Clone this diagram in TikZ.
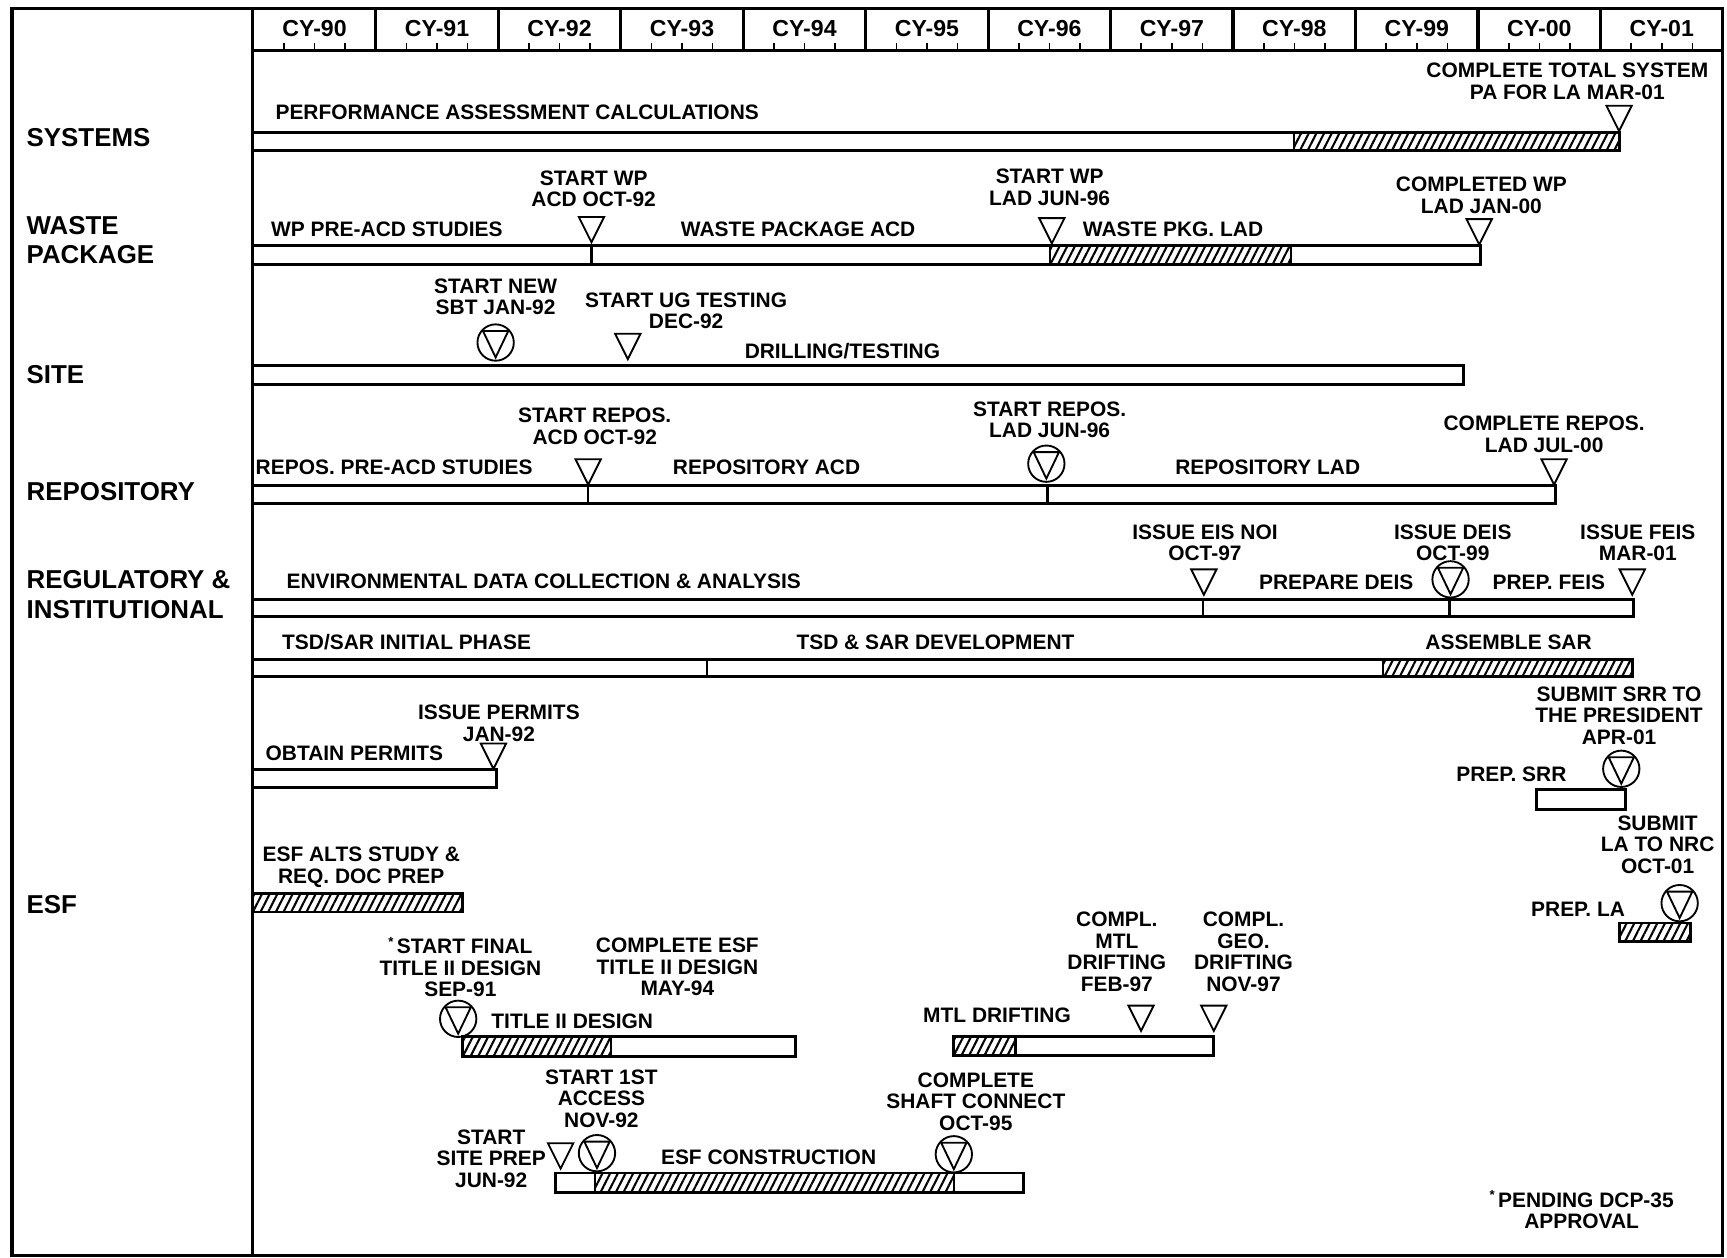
\documentclass[tikz,border=0pt]{standalone}
\usepackage{fontspec}
\setmainfont{Liberation Sans}
\usetikzlibrary{patterns.meta}
\tikzset{
  frame/.style={line width=3pt},
  barline/.style={line width=2.6pt},
  sepline/.style={line width=2pt},
  hatch/.style={pattern={Lines[angle=63,distance=6.2pt,line width=1.9pt]}},
  msline/.style={line width=1.7pt},
  lbl/.style={font=\fontsize{19}{19.5}\selectfont\bfseries, inner sep=0pt, align=center},
  lbll/.style={lbl, anchor=west},
  rowlbl/.style={font=\fontsize{23.5}{27}\selectfont\bfseries, inner sep=0pt, align=left, anchor=west},
  yearlbl/.style={font=\fontsize{21}{22}\selectfont\bfseries, inner sep=0pt},
  mscirc/.style={circle, draw, line width=1.7pt, minimum size=33pt, inner sep=0pt},
}
\newcommand\msTri[3]{% name, x, y of tip
  \coordinate (#1) at (#2,#3);
  \draw[msline] ({#2-11.5},{#3-23}) -- ({#2+11.5},{#3-23}) -- (#2,#3) -- cycle;}
\newcommand\msCirc[3]{% name, x, y of centre
  \node[mscirc] (#1) at (#2,#3) {};
  \draw[msline] ({#2-11.5},{#3-10.5}) -- ({#2+11.5},{#3-10.5}) -- (#2,{#3+13.5}) -- cycle;}
\newcommand\fnstar{\raisebox{0.35em}{\fontsize{12}{12}\selectfont *}}
\begin{document}
\begin{tikzpicture}[x=1pt,y=-1pt]
\useasboundingbox (0,0) rectangle (1568,1142);
\fill[white] (0,0) rectangle (1568,1142);
% frame
\draw[frame] (11,8) rectangle (1564,1140);
\draw[frame] (229,8) -- (229,1140);
\draw[frame] (229,46) -- (1564,46);
% header
\foreach \lab [count=\i from 0] in {90,91,92,93,94,95,96,97,98,99,00,01} {
  \pgfmathsetmacro\xa{230+111.2*\i}
  \node[yearlbl] (cy\i) at (\xa+55.6,26) {CY-\lab};
  \ifnum\i>0 \draw[frame] (\xa,8) -- (\xa,46); \fi
  \foreach \q in {1,2,3} \draw[line width=1.5pt] ({\xa+27.8*\q},46) -- ({\xa+27.8*\q},39);
}
% row labels
\node[rowlbl] (rSys) at (24,125) {SYSTEMS};
\node[rowlbl] (rWP) at (24,218) {WASTE\\PACKAGE};
\node[rowlbl] (rSite) at (24,340) {SITE};
\node[rowlbl] (rRep) at (24,446) {REPOSITORY};
\node[rowlbl] (rReg) at (24,540) {REGULATORY \&\\INSTITUTIONAL};
\node[rowlbl] (rESF) at (24,821) {ESF};

% ---------- SYSTEMS
\fill[hatch] (1175,120) rectangle (1470,137);
\draw[barline] (229,120) rectangle (1470,137);
\draw[sepline] (1175,120) -- (1175,137);
\node[lbll] (tPA) at (250,102) {PERFORMANCE ASSESSMENT CALCULATIONS};
\node[lbl] (tPAm) at (1423,74) {COMPLETE TOTAL SYSTEM\\PA FOR LA MAR-01};
\msTri{mPA}{1470}{119}

% ---------- WASTE PACKAGE
\fill[hatch] (953,223) rectangle (1172,240);
\draw[barline] (229,223) rectangle (1344,240);
\foreach \s in {537,953,1172} \draw[sepline] (\s,223) -- (\s,240);
\node[lbll] (tWP1) at (246,208) {WP PRE-ACD STUDIES};
\node[lbl] (tWPm1) at (539,171.5) {START WP\\ACD OCT-92};
\msTri{mWP1}{537}{220}
\node[lbll] (tWP2) at (618,208) {WASTE PACKAGE ACD};
\node[lbl] (tWPm2) at (953,170) {START WP\\LAD JUN-96};
\msTri{mWP2}{955}{221}
\node[lbll] (tWP3) at (983,208) {WASTE PKG. LAD};
\node[lbl] (tWPm3) at (1345,177.5) {COMPLETED WP\\LAD JAN-00};
\msTri{mWP3}{1343}{222}

% ---------- SITE
\draw[barline] (229,332) rectangle (1329,349);
\node[lbl] (tS1) at (450,269.5) {START NEW\\SBT JAN-92};
\msCirc{mS1}{450}{311}
\node[lbl] (tS2) at (623,282) {START UG TESTING\\DEC-92};
\msTri{mS2}{570}{326}
\node[lbll] (tS3) at (676,319) {DRILLING/TESTING};

% ---------- REPOSITORY
\draw[barline] (229,441) rectangle (1412,457);
\foreach \s in {534,951} \draw[sepline] (\s,441) -- (\s,457);
\node[lbll] (tR1) at (232,424) {REPOS. PRE-ACD STUDIES};
\node[lbl] (tRm1) at (540,387) {START REPOS.\\ACD OCT-92};
\msTri{mR1}{534}{440}
\node[lbl] (tR2) at (696,424) {REPOSITORY ACD};
\node[lbl] (tRm2) at (953,381) {START REPOS.\\LAD JUN-96};
\msCirc{mR2}{950}{421}
\node[lbl] (tR3) at (1151,424) {REPOSITORY LAD};
\node[lbl] (tRm3) at (1402,394.5) {COMPLETE REPOS.\\LAD JUL-00};
\msTri{mR3}{1411}{440}

% ---------- REGULATORY
\draw[barline] (229,544) rectangle (1483,560);
\foreach \s in {1092,1316} \draw[sepline] (\s,544) -- (\s,560);
\node[lbll] (tG1) at (260,528) {ENVIRONMENTAL DATA COLLECTION \& ANALYSIS};
\node[lbl] (tGm1) at (1094,493) {ISSUE EIS NOI\\OCT-97};
\msTri{mG1}{1093}{540}
\node[lbll] (tG2) at (1143,529) {PREPARE DEIS};
\node[lbl] (tGm2) at (1319,493) {ISSUE DEIS\\OCT-99};
\msCirc{mG2}{1317}{526}
\node[lbll] (tG3) at (1355,529) {PREP. FEIS};
\node[lbl] (tGm3) at (1487,493) {ISSUE FEIS\\MAR-01};
\msTri{mG3}{1482}{540}

% ---------- TSD / SAR
\fill[hatch] (1256,599) rectangle (1482,614);
\draw[barline] (229,599) rectangle (1482,614);
\foreach \s in {642,1256} \draw[sepline] (\s,599) -- (\s,614);
\node[lbll] (tT1) at (256,583) {TSD/SAR INITIAL PHASE};
\node[lbll] (tT2) at (723,583) {TSD \& SAR DEVELOPMENT};
\node[lbll] (tT3) at (1294,583) {ASSEMBLE SAR};

% ---------- PERMITS
\draw[barline] (229,699) rectangle (451,715);
\node[lbll] (tP1) at (241,684) {OBTAIN PERMITS};
\node[lbl] (tPm) at (453,656.5) {ISSUE PERMITS\\JAN-92};
\msTri{mP}{448}{698}

% ---------- SRR
\draw[barline] (1395,717) rectangle (1476,735);
\node[lbll] (tSRR) at (1322,703) {PREP. SRR};
\node[lbl] (tSRRm) at (1470,649.5) {SUBMIT SRR TO\\THE PRESIDENT\\APR-01};
\msCirc{mSRR}{1472}{698}

% ---------- LA
\fill[hatch] (1470,838) rectangle (1535,855);
\draw[barline] (1470,838) rectangle (1535,855);
\node[lbll] (tLA) at (1390,826) {PREP. LA};
\node[lbl] (tLAm) at (1505,767) {SUBMIT\\LA TO NRC\\OCT-01};
\msCirc{mLA}{1525}{820}

% ---------- ESF ALTS
\fill[hatch] (229,811) rectangle (420,828);
\draw[barline] (229,811) rectangle (420,828);
\node[lbl] (tE1) at (328,787.5) {ESF ALTS STUDY \&\\REQ. DOC PREP};

% ---------- TITLE II
\fill[hatch] (420,941) rectangle (555,959);
\draw[barline] (420,941) rectangle (722,959);
\draw[sepline] (555,941) -- (555,959);
\node[lbl] (tTm1) at (418,878) {\fnstar\,START FINAL\\TITLE II DESIGN\\SEP-91};
\msCirc{mT1}{416}{925}
\node[lbll] (tT2d) at (446,927) {TITLE II DESIGN};
\node[lbl] (tTm2) at (615,878) {COMPLETE ESF\\TITLE II DESIGN\\MAY-94};

% ---------- MTL DRIFTING
\fill[hatch] (866,941) rectangle (922,958);
\draw[barline] (866,941) rectangle (1102,958);
\draw[sepline] (922,941) -- (922,958);
\node[lbll] (tM) at (838,922) {MTL DRIFTING};
\node[lbl] (tMm1) at (1014,864) {COMPL.\\MTL\\DRIFTING\\FEB-97};
\node[lbl] (tMm2) at (1129,864) {COMPL.\\GEO.\\DRIFTING\\NOV-97};
\msTri{mM1}{1036}{936}
\msTri{mM2}{1102}{936}

% ---------- ESF CONSTRUCTION
\fill[hatch] (540,1065) rectangle (866,1083);
\draw[barline] (504,1065) rectangle (929,1083);
\foreach \s in {540,866} \draw[sepline] (\s,1065) -- (\s,1083);
\node[lbl] (tCm1) at (446,1052) {START\\SITE PREP\\JUN-92};
\msTri{mC1}{509}{1061}
\node[lbl] (tCm2) at (546,997.5) {START 1ST\\ACCESS\\NOV-92};
\msCirc{mC2}{542}{1047}
\node[lbll] (tC) at (600,1051) {ESF CONSTRUCTION};
\node[lbl] (tCm3) at (886,1000) {COMPLETE\\SHAFT CONNECT\\OCT-95};
\msCirc{mC3}{866}{1048}

% ---------- footnote
\node[lbl] (tFoot) at (1436,1098.5) {\fnstar\,PENDING DCP-35\\APPROVAL};
\end{tikzpicture}
\end{document}
